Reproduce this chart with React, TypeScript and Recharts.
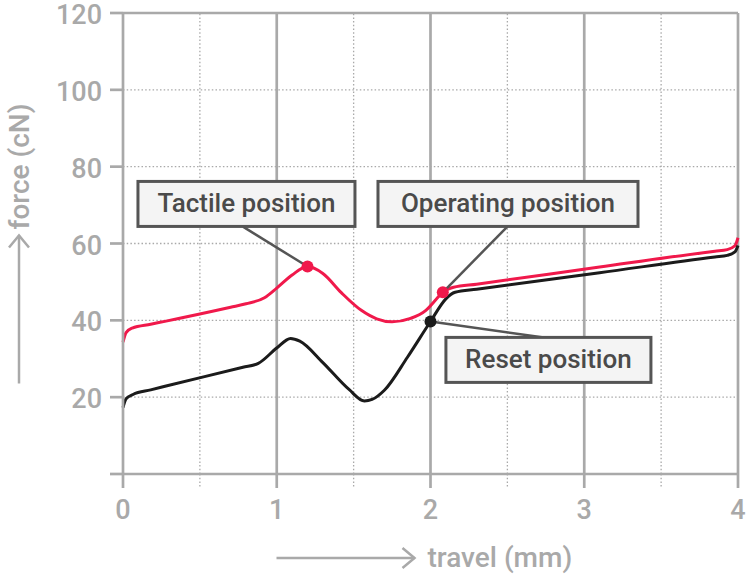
import React from 'react';
import { LineChart, Line, XAxis, YAxis, ReferenceLine, ReferenceDot } from 'recharts';

// ---- data ----
const redTravel = [0, 0.02, 0.06, 0.18, 0.28, 0.7, 0.8, 0.92, 1.0, 1.1, 1.2, 1.3, 1.42, 1.55, 1.65, 1.75, 1.87, 1.97, 2.04, 2.08, 2.15, 2.3, 3.1, 3.85, 3.93, 3.98, 4.0];
const redForce = [34.3, 36.8, 38.0, 39.0, 39.8, 43.4, 44.3, 45.9, 48.4, 51.8, 54.0, 52.2, 47.2, 42.6, 40.4, 39.6, 40.5, 42.6, 45.6, 47.3, 48.6, 49.4, 53.9, 58.0, 58.4, 59.4, 61.5];

const blackTravel = [0, 0.02, 0.065, 0.18, 0.28, 0.78, 0.88, 1.0, 1.09, 1.15, 1.3, 1.47, 1.57, 1.62, 1.7, 1.85, 2.0, 2.1, 2.16, 2.3, 3.1, 3.85, 3.93, 3.98, 4.0];
const blackForce = [17.3, 19.6, 20.7, 21.9, 22.9, 27.8, 28.8, 32.8, 35.3, 34.6, 29.0, 22.0, 19.0, 19.4, 21.8, 30.4, 39.7, 45.6, 47.3, 48.1, 52.4, 56.5, 56.9, 57.8, 59.5];

const xTicks = [0, 0.5, 1, 1.5, 2, 2.5, 3, 3.5, 4];
const yTicks = [0, 20, 40, 60, 80, 100, 120];
const dottedX = [0.5, 1.5, 2.5, 3.5];
const solidX = [1, 2, 3, 4];
const dottedY = [20, 40, 60, 80, 100];

const noteLabels = ['Tactile position', 'Operating position', 'Reset position'];
const noteTravel = [1.2, 2.08, 2.0];
const noteForce = [54.0, 47.3, 39.7];
const noteBoxTravel = [0.803, 2.504, 2.767];
const noteBoxForce = [70.3, 70.3, 29.7];
const noteLeadTravel = [0.78, 2.5, 2.725];
const noteLeadForce = [64.4, 64.4, 35.6];

// ---- styles ----
const RED = '#f0194b';
const BLACK = '#1b1b1b';
const GRAY = '#a9a9a9';
const DARK = '#555555';
const FONT = 'Roboto, "Noto Sans", sans-serif';
const noteColors = [RED, RED, BLACK];
const boxWidths = [217, 260, 205];
const BOX_H = 45;

const redData = redTravel.map((x, i) => ({ x, y: redForce[i] }));
const blackData = blackTravel.map((x, i) => ({ x, y: blackForce[i] }));

const XTick = (props: any) => {
  const { x, y, payload } = props;
  const v = payload.value;
  const isInt = Number.isInteger(v);
  return (
    <g>
      <line
        x1={x}
        x2={x}
        y1={y - 14}
        y2={y}
        stroke={GRAY}
        strokeWidth={isInt ? 2.7 : 1.3}
        strokeDasharray={isInt ? undefined : '1.5 2.2'}
      />
      {isInt && (
        <text x={x} y={y + 31} textAnchor="middle" fill={GRAY} fontSize={27} fontWeight={500} fontFamily={FONT}>
          {v}
        </text>
      )}
    </g>
  );
};

const YTick = (props: any) => {
  const { x, y, payload } = props;
  const v = payload.value;
  if (v === 0) return <g />;
  return (
    <text x={x} y={y + 11} textAnchor="end" fill={GRAY} fontSize={27} fontWeight={500} fontFamily={FONT}>
      {v}
    </text>
  );
};

const XLabel = (props: any) => {
  const vb = props.viewBox || {};
  const cx = vb.x + vb.width / 2;
  const ly = 558;
  return (
    <g>
      <line x1={cx - 154} x2={cx - 16} y1={ly} y2={ly} stroke={GRAY} strokeWidth={2.5} />
      <polyline points={`${cx - 28},${ly - 10} ${cx - 16},${ly} ${cx - 28},${ly + 10}`} fill="none" stroke={GRAY} strokeWidth={2.5} />
      <text x={cx - 3} y={ly + 9} fill={GRAY} fontSize={28} fontWeight={500} fontFamily={FONT}>
        travel (mm)
      </text>
    </g>
  );
};

const YLabel = (props: any) => {
  const vb = props.viewBox || {};
  const cy = vb.y + vb.height / 2;
  const lx = 19;
  return (
    <g>
      <line x1={lx} x2={lx} y1={cy + 140} y2={cy - 8} stroke={GRAY} strokeWidth={2.5} />
      <polyline points={`${lx - 10},${cy + 4} ${lx},${cy - 8} ${lx + 10},${cy + 4}`} fill="none" stroke={GRAY} strokeWidth={2.5} />
      <text
        x={lx + 10}
        y={cy - 14}
        transform={`rotate(-90, ${lx + 10}, ${cy - 14})`}
        fill={GRAY}
        fontSize={28}
        fontWeight={500}
        fontFamily={FONT}
        textAnchor="start"
      >
        force (cN)
      </text>
    </g>
  );
};

const makeBox = (label: string, w: number) => (props: any) => {
  const { cx, cy } = props;
  return (
    <g>
      <rect x={cx - w / 2} y={cy - BOX_H / 2} width={w} height={BOX_H} fill="#f4f4f4" stroke={DARK} strokeWidth={3} />
      <text x={cx} y={cy + 8} textAnchor="middle" fill="#4a4a4a" fontSize={26} fontWeight={500} fontFamily={FONT}>
        {label}
      </text>
    </g>
  );
};

export default function App() {
  return (
    <div style={{ position: 'absolute', left: 0, top: 0, width: 750, height: 577, background: '#fff' }}>
      <LineChart width={750} height={577} margin={{ top: 13, right: 12, left: 63, bottom: 43 }}>
        <XAxis
          dataKey="x"
          type="number"
          domain={[0, 4]}
          ticks={xTicks}
          interval={0}
          height={60}
          tickLine={false}
          tickSize={14}
          tickMargin={0}
          axisLine={{ stroke: GRAY, strokeWidth: 2.7 }}
          tick={<XTick />}
          label={<XLabel />}
          allowDuplicatedCategory={false}
        />
        <YAxis
          type="number"
          domain={[0, 120]}
          ticks={yTicks}
          interval={0}
          width={60}
          tickSize={13}
          tickMargin={8}
          tickLine={{ stroke: GRAY, strokeWidth: 2.7 }}
          axisLine={{ stroke: GRAY, strokeWidth: 2.7 }}
          tick={<YTick />}
          label={<YLabel />}
        />
        {dottedY.map((v) => (
          <ReferenceLine key={'dy' + v} y={v} stroke={GRAY} strokeWidth={1.3} strokeDasharray="1.5 2.2" />
        ))}
        {dottedX.map((v) => (
          <ReferenceLine key={'dx' + v} x={v} stroke={GRAY} strokeWidth={1.3} strokeDasharray="1.5 2.2" />
        ))}
        {solidX.map((v) => (
          <ReferenceLine key={'sx' + v} x={v} stroke={GRAY} strokeWidth={2.7} />
        ))}
        <ReferenceLine y={120} stroke={GRAY} strokeWidth={2.7} />
        <Line data={redData} dataKey="y" type="monotone" stroke={RED} strokeWidth={3} dot={false} isAnimationActive={false} />
        <Line data={blackData} dataKey="y" type="monotone" stroke={BLACK} strokeWidth={3} dot={false} isAnimationActive={false} />
        {noteLabels.map((l, i) => (
          <ReferenceLine
            key={'lead' + i}
            segment={[
              { x: noteLeadTravel[i], y: noteLeadForce[i] },
              { x: noteTravel[i], y: noteForce[i] },
            ]}
            stroke={DARK}
            strokeWidth={2.5}
          />
        ))}
        {noteLabels.map((l, i) => (
          <ReferenceDot key={'dot' + i} x={noteTravel[i]} y={noteForce[i]} r={6} fill={noteColors[i]} stroke="none" />
        ))}
        {noteLabels.map((l, i) => (
          <ReferenceDot key={'box' + i} x={noteBoxTravel[i]} y={noteBoxForce[i]} r={1} shape={makeBox(l, boxWidths[i])} />
        ))}
      </LineChart>
    </div>
  );
}
